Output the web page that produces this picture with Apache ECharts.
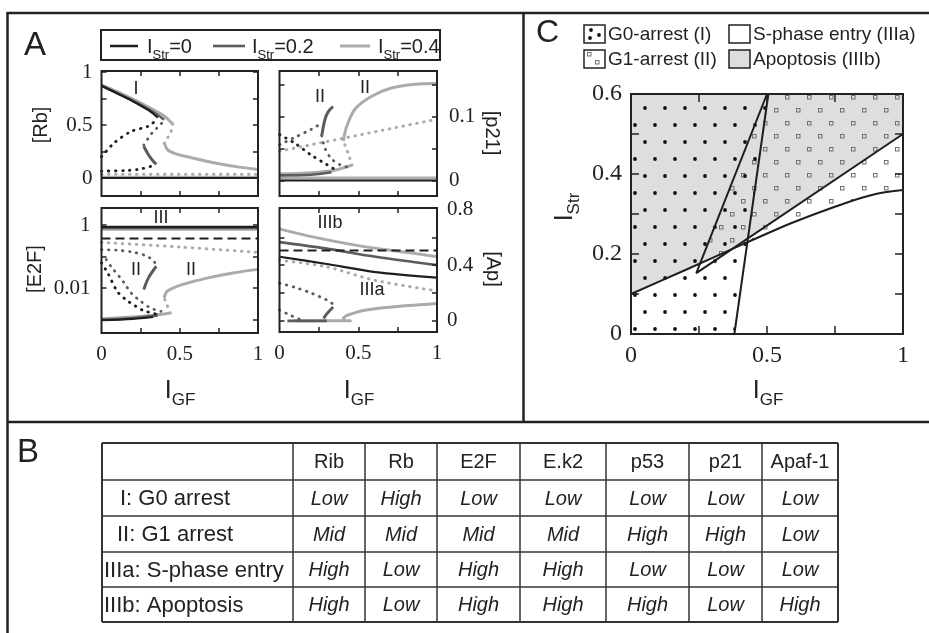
<!DOCTYPE html>
<html><head><meta charset="utf-8">
<script src="https://cdn.jsdelivr.net/npm/echarts@6/dist/echarts.min.js"></script>
<style>html,body{margin:0;padding:0;background:#fff}#c{width:929px;height:633px}</style>
</head><body><div id="c"></div>
<script>
// ================= DATA =================
// Panel A, [Rb] vs I_GF
const rbUpperBlack = [[0,0.87],[0.1,0.80],[0.2,0.725],[0.3,0.64],[0.36,0.57]];
const rbUpperDark = [[0,0.87],[0.1,0.80],[0.2,0.73],[0.3,0.65],[0.36,0.595],[0.40,0.55]];
const rbUpperLight = [[0,0.88],[0.1,0.815],[0.2,0.745],[0.3,0.67],[0.4,0.585],[0.455,0.51]];
const rbLowerLight = [[0.40,0.34],[0.42,0.27],[0.47,0.23],[0.55,0.2],[0.65,0.165],[0.75,0.135],[0.87,0.105],[1,0.08]];
const rbMidDark = [[0.27,0.30],[0.30,0.22],[0.33,0.16],[0.35,0.13]];
const rbUnstBlackRise = [[0,0.2],[0.08,0.33],[0.19,0.44],[0.30,0.49],[0.36,0.56]];
const rbUnstDarkRise = [[0.27,0.31],[0.32,0.42],[0.36,0.48],[0.40,0.54]];
const rbUnstBlackLow = [[0,0.065],[0.15,0.07],[0.25,0.085],[0.35,0.125]];
const rbUnstLightFold = [[0.455,0.51],[0.44,0.42],[0.40,0.34]];
const rbUnstLightFlat = [[0,0.035],[1,0.035]];
const rbZeroBlack = [[0,0],[1,0]];
const rbZeroLight = [[0,0.006],[1,0.006]];
// Panel A, [p21]
const p21HighLight = [[0.405,0.062],[0.427,0.085],[0.48,0.112],[0.585,0.132],[0.71,0.145],[0.86,0.151],[1,0.152]];
const p21LowLight = [[0,0.01],[0.2,0.012],[0.35,0.016],[0.46,0.024]];
const p21FoldLight = [[0.46,0.024],[0.44,0.04],[0.405,0.062]];
const p21UnstLight = [[0,0.046],[1,0.096]];
const p21MidDark = [[0.268,0.07],[0.289,0.096],[0.31,0.108],[0.34,0.116]];
const p21LowDark = [[0,0.008],[0.2,0.009],[0.33,0.013]];
const p21UnstDarkRise = [[0,0.056],[0.1,0.068],[0.2,0.08],[0.27,0.09]];
const p21UnstBlack = [[0,0.072],[0.1,0.058],[0.2,0.04],[0.3,0.025],[0.36,0.016]];
const p21UnstDarkFall = [[0.268,0.07],[0.29,0.05],[0.33,0.034],[0.39,0.024],[0.45,0.02]];
const p21ZeroBlack = [[0,0],[1,0]];
const p21ZeroLight = [[0,0.004],[1,0.004]];
// Panel A, [E2F] (log scale)
const e2fHighBlack = [[0,0.87],[1,0.87]];
const e2fHighDark = [[0,0.8],[1,0.8]];
const e2fHighLight = [[0,0.74],[1,0.74]];
const e2fThreshold = [[0,0.37],[1,0.37]];
const e2fUnstLight = [[0,0.28],[0.5,0.2],[1,0.135]];
const e2fUnstDarkUpper = [[0,0.166],[0.1,0.158],[0.2,0.138],[0.28,0.107],[0.33,0.076],[0.35,0.052]];
const e2fMidDark = [[0.27,0.0089],[0.3,0.021],[0.35,0.049]];
const e2fUnstBlack = [[0,0.063],[0.04,0.030],[0.10,0.0079],[0.155,0.0043],[0.22,0.0026],[0.27,0.0019],[0.37,0.0014]];
const e2fUnstDark = [[0.03,0.08],[0.06,0.049],[0.145,0.0145],[0.19,0.0069],[0.25,0.0038],[0.315,0.0023],[0.38,0.0018]];
const e2fMidLight = [[0.40,0.0048],[0.42,0.0079],[0.51,0.0126],[0.68,0.021],[0.84,0.03],[1,0.039]];
const e2fLowLight = [[0,0.00105],[0.2,0.0012],[0.35,0.0014],[0.44,0.0016]];
const e2fLowDark = [[0,0.00098],[0.2,0.0011],[0.36,0.00135]];
const e2fLowBlack = [[0,0.00095],[0.2,0.00105],[0.33,0.0012]];
const e2fFoldLight = [[0.44,0.0016],[0.42,0.0028],[0.40,0.0048]];
// Panel A, [Ap]
const apHighLight = [[0,0.66],[0.18,0.61],[0.5,0.54],[0.82,0.49],[1,0.46]];
const apThreshold = [[0,0.505],[1,0.505]];
const apHighDark = [[0,0.565],[0.29,0.52],[0.61,0.46],[1,0.40]];
const apHighBlack = [[0,0.46],[0.29,0.41],[0.61,0.35],[1,0.31]];
const apUnstLight = [[0,0.435],[0.29,0.39],[0.61,0.29],[1,0.215]];
const apMidLight = [[0.405,0.018],[0.43,0.04],[0.56,0.08],[0.82,0.11],[1,0.125]];
const apLowLight = [[0.09,0.0],[0.45,0.0]];
const apLowDark = [[0.05,0.0],[0.3,0.0]];
const apMidDark = [[0.28,0.018],[0.3,0.05],[0.34,0.1]];
const apUnstDark = [[0,0.27],[0.1,0.24],[0.2,0.2],[0.3,0.15],[0.34,0.12]];
const apUnstBlack = [[0,0.077],[0.07,0.04],[0.14,0.005]];
const apFoldLight = [[0.45,0.0],[0.405,0.018]];
// Panel A tick labels
const aXLabels = [0, 0.5, 1];
const rbLabels = [0, 0.5, 1];
const p21Labels = [0, 0.1];
const apLabels = [0, 0.4, 0.8];
const legendA = ['0', '0.2', '0.4'];

// Panel C: phase boundaries in (I_GF, I_Str)
const cLine1 = [[0.38,0],[0.505,0.6]];
const cWedge = [[0.50,0.6],[0.24,0.152],[1.0,0.5]];
const cLine4 = [[0,0.1],[0.2,0.16],[0.42,0.227],[0.6,0.28],[0.8,0.33],[0.9,0.35],[1,0.36]];
const cXLabels = [0, 0.5, 1];
const cYLabels = [0, 0.2, 0.4, 0.6];
const cLegend = ['G0-arrest (I)', 'S-phase entry (IIIa)', 'G1-arrest (II)', 'Apoptosis (IIIb)'];

// Panel B: table
const tableCols = ['Rib','Rb','E2F','E.k2','p53','p21','Apaf-1'];
const tableRows = ['I: G0 arrest','II: G1 arrest','IIIa: S-phase entry','IIIb: Apoptosis'];
const tableLevels = [
  ['Low','High','Low','Low','Low','Low','Low'],
  ['Mid','Mid','Mid','Mid','High','High','Low'],
  ['High','Low','High','High','Low','Low','Low'],
  ['High','Low','High','High','High','Low','High']
];

// ================= STYLE / LAYOUT =================
const BLACK = '#1e1e1e', DARK = '#5c5c5c', LIGHT = '#ababab', INK = '#222';
const SANS = 'Liberation Sans', SERIF = 'Liberation Serif';
const grids = [
  {left:101.5, top:71, width:156.5, height:125},
  {left:279.5, top:71, width:157.5, height:125},
  {left:101.5, top:208, width:156.5, height:125},
  {left:279.5, top:208, width:157.5, height:124},
  {left:631, top:94, width:272, height:240}
];

function axisCfg(g, pos, o) {
  const a = {
    type: o.type || 'value', gridIndex: g, position: pos, min: o.min, max: o.max, z: 5,
    axisLine: {show: false, onZero: false}, splitLine: {show: false},
    axisTick: {show: true, inside: true, length: o.tickLen || 5, lineStyle: {color: INK, width: 1.5}},
    axisLabel: {show: !!o.labels, margin: o.margin || 10, fontFamily: SERIF, fontSize: o.fs || 21, color: INK}
  };
  if (o.type === 'log') { a.logBase = 10; a.axisLabel.formatter = o.fmt; a.axisLabel.show = !!o.labels; }
  else {
    if (o.ticks) a.axisTick.customValues = o.ticks;
    if (o.labels) a.axisLabel.customValues = o.labels;
  }
  return a;
}
const xTicksA = [0.25, 0.5, 0.75];
const xAxes = [], yAxes = [];
for (let g = 0; g < 4; g++) {
  xAxes.push(axisCfg(g, 'bottom', {min:0, max:1, ticks:xTicksA, labels: g >= 2 ? aXLabels : null, margin: 11}));
  xAxes.push(axisCfg(g, 'top', {min:0, max:1, ticks:xTicksA}));
}
// Rb
yAxes.push(axisCfg(0, 'left', {min:-0.17, max:1.01, ticks:[0,0.25,0.5,0.75,1], labels:rbLabels, margin:9}));
yAxes.push(axisCfg(0, 'right', {min:-0.17, max:1.01, ticks:[0,0.25,0.5,0.75,1]}));
// p21
yAxes.push(axisCfg(1, 'left', {min:-0.0243, max:0.1716, ticks:[0,0.05,0.1,0.15]}));
yAxes.push(axisCfg(1, 'right', {min:-0.0243, max:0.1716, ticks:[0,0.05,0.1,0.15], labels:p21Labels, margin:12}));
// E2F log
const e2fFmt = v => { const e = Math.log10(v); if (Math.abs(e) < 1e-6) return '1'; if (Math.abs(e + 2) < 1e-6) return '0.01'; return ''; };
yAxes.push(axisCfg(2, 'left', {type:'log', min:0.000372, max:3.47, labels:true, fmt:e2fFmt, margin:11}));
yAxes.push(axisCfg(2, 'right', {type:'log', min:0.000372, max:3.47}));
// Ap
yAxes.push(axisCfg(3, 'left', {min:-0.08, max:0.81, ticks:[0,0.2,0.4,0.6]}));
yAxes.push(axisCfg(3, 'right', {min:-0.08, max:0.81, ticks:[0,0.2,0.4,0.6], labels:apLabels, margin:10}));
// Panel C
xAxes.push(axisCfg(4, 'bottom', {min:0, max:1, ticks:[0.25,0.5,0.75], labels:cXLabels, tickLen:8, fs:24, margin:10}));
xAxes.push(axisCfg(4, 'top', {min:0, max:1, ticks:[0.25,0.5,0.75], tickLen:8}));
yAxes.push(axisCfg(4, 'left', {min:0, max:0.6, ticks:[0.1,0.2,0.3,0.4,0.5], labels:cYLabels, tickLen:8, fs:24, margin:9}));
yAxes.push(axisCfg(4, 'right', {min:0, max:0.6, ticks:[0.1,0.2,0.3,0.4,0.5], tickLen:8}));

// ================= SERIES =================
const series = [];
function addLine(data, g, color, kind, width) {
  const dash = kind === 'dot' ? [0.5, 6.5] : kind === 'dash' ? [9, 5] : 'solid';
  series.push({
    type: 'line', xAxisIndex: 2 * g, yAxisIndex: 2 * g, data: data, symbol: 'none',
    smooth: data.length > 2 ? 0.3 : false, silent: true, animation: false,
    z: color === BLACK ? 4 : color === DARK ? 3 : 2,
    lineStyle: {color: color, width: width || (color === LIGHT ? 3 : color === DARK ? 2.6 : 2.2), type: dash, cap: kind === 'dot' ? 'round' : 'butt'}
  });
}
// Rb
addLine(rbZeroBlack, 0, BLACK); addLine(rbZeroLight, 0, LIGHT);
addLine(rbUnstLightFlat, 0, LIGHT, 'dot');
addLine(rbUpperLight, 0, LIGHT); addLine(rbUpperDark, 0, DARK); addLine(rbUpperBlack, 0, BLACK);
addLine(rbLowerLight, 0, LIGHT); addLine(rbUnstLightFold, 0, LIGHT, 'dot');
addLine(rbMidDark, 0, DARK, 'solid', 3);
addLine(rbUnstBlackRise, 0, BLACK, 'dot', 2.8); addLine(rbUnstDarkRise, 0, DARK, 'dot', 2.8);
addLine(rbUnstBlackLow, 0, BLACK, 'dot', 2.8);
// p21
addLine(p21ZeroLight, 1, LIGHT); addLine(p21ZeroBlack, 1, BLACK);
addLine(p21UnstLight, 1, LIGHT, 'dot');
addLine(p21HighLight, 1, LIGHT); addLine(p21LowLight, 1, LIGHT); addLine(p21FoldLight, 1, LIGHT, 'dot');
addLine(p21MidDark, 1, DARK, 'solid', 3); addLine(p21LowDark, 1, DARK);
addLine(p21UnstDarkRise, 1, DARK, 'dot', 2.8); addLine(p21UnstBlack, 1, BLACK, 'dot', 2.8);
addLine(p21UnstDarkFall, 1, DARK, 'dot', 2.8);
// E2F
addLine(e2fHighLight, 2, LIGHT); addLine(e2fHighDark, 2, DARK); addLine(e2fHighBlack, 2, BLACK);
addLine(e2fThreshold, 2, BLACK, 'dash', 2);
addLine(e2fUnstLight, 2, LIGHT, 'dot');
addLine(e2fUnstDarkUpper, 2, DARK, 'dot', 2.8);
addLine(e2fMidDark, 2, DARK, 'solid', 3);
addLine(e2fUnstBlack, 2, BLACK, 'dot', 2.8); addLine(e2fUnstDark, 2, DARK, 'dot', 2.8);
addLine(e2fMidLight, 2, LIGHT);
addLine(e2fLowLight, 2, LIGHT); addLine(e2fLowDark, 2, DARK); addLine(e2fLowBlack, 2, BLACK);
addLine(e2fFoldLight, 2, LIGHT, 'dot');
// Ap
addLine(apHighLight, 3, LIGHT); addLine(apThreshold, 3, BLACK, 'dash', 2);
addLine(apHighDark, 3, DARK); addLine(apHighBlack, 3, BLACK);
addLine(apUnstLight, 3, LIGHT, 'dot');
addLine(apMidLight, 3, LIGHT); addLine(apLowLight, 3, LIGHT); addLine(apLowDark, 3, DARK);
addLine(apMidDark, 3, DARK, 'solid', 3);
addLine(apUnstDark, 3, DARK, 'dot', 2.8); addLine(apUnstBlack, 3, DARK, 'dot', 2.8);
addLine(apFoldLight, 3, LIGHT, 'dot');

// ---- Panel C regions ----
function interp(line, x) {
  for (let i = 0; i < line.length - 1; i++) {
    const [x0, y0] = line[i], [x1, y1] = line[i + 1];
    if (x >= Math.min(x0, x1) - 1e-9 && x <= Math.max(x0, x1) + 1e-9) return y0 + (y1 - y0) * (x - x0) / (x1 - x0);
  }
  return null;
}
const cLine3 = cWedge.slice(1);
const lowerY = x => { const a = interp(cLine4, x), b = interp(cLine3, x); return b == null ? a : Math.max(a, b); };
let xs = Array.from(new Set(cLine4.map(p => p[0]).concat(cLine3.map(p => p[0])))).sort((a, b) => a - b);
const extra = [];
for (let i = 0; i < xs.length - 1; i++) {
  const a = xs[i], b = xs[i + 1];
  const da = interp(cLine3, a) == null ? null : interp(cLine4, a) - interp(cLine3, a);
  const db = interp(cLine3, b) == null ? null : interp(cLine4, b) - interp(cLine3, b);
  if (da != null && db != null && da * db < 0) extra.push(a + (b - a) * da / (da - db));
}
xs = xs.concat(extra).sort((a, b) => a - b);
const grayPoly = [[0, 0.6]].concat(xs.map(x => [x, lowerY(x)])).concat([[1, 0.6]]);
const dotPoly = [[0, 0], cLine1[0], cLine1[1], [0, 0.6]];
const sqPoly = [cWedge[0], cWedge[1]].concat(cLine4.filter(p => p[0] > cWedge[1][0])).concat([[1, 0.6]]);

function makeDots(w, h, pts) {
  const c = document.createElement('canvas'); c.width = w; c.height = h;
  const x = c.getContext('2d'); x.fillStyle = '#111';
  pts.forEach(([a, b]) => { x.beginPath(); x.arc(a, b, 1.9, 0, Math.PI * 2); x.fill(); });
  return c;
}
function makeSquares(w, h, pts, bg) {
  const c = document.createElement('canvas'); c.width = w; c.height = h;
  const x = c.getContext('2d');
  if (bg) { x.fillStyle = bg; x.fillRect(0, 0, w, h); }
  x.strokeStyle = '#6f6f6f'; x.lineWidth = 1;
  pts.forEach(([a, b]) => x.strokeRect(a + 0.5, b + 0.5, 3.5, 3.5));
  return c;
}
const dotTile = makeDots(20, 34, [[5, 6], [15, 23]]);
const sqTile = makeSquares(22, 26, [[4, 4], [15, 17]]);
function region(poly, fill, z) {
  series.push({
    type: 'custom', xAxisIndex: 8, yAxisIndex: 8, data: [0], silent: true, animation: false, z: z,
    renderItem: (p, api) => ({type: 'polygon', shape: {points: poly.map(pt => api.coord(pt))}, style: {fill: fill}})
  });
}
region(grayPoly, '#dedede', 0);
region(sqPoly, {image: sqTile, repeat: 'repeat'}, 1);
region(dotPoly, {image: dotTile, repeat: 'repeat'}, 1);
function cLineSeries(data, smooth) {
  series.push({type: 'line', xAxisIndex: 8, yAxisIndex: 8, data: data, symbol: 'none', smooth: smooth, silent: true, animation: false, z: 4,
    lineStyle: {color: BLACK, width: 2}});
}
cLineSeries(cLine1, false); cLineSeries(cWedge, false); cLineSeries(cLine4, 0.3);

// ================= GRAPHIC =================
const G = [];
const L = (x1, y1, x2, y2, w, c) => G.push({type: 'line', shape: {x1, y1, x2, y2}, style: {stroke: c || INK, lineWidth: w || 2}, z: 100, silent: true});
const T = (text, x, y, o) => G.push(Object.assign({type: 'text', x, y, z: 100, silent: true,
  style: Object.assign({text, fontFamily: SANS, fontSize: 18, fill: INK, align: 'center', verticalAlign: 'middle'}, o || {})}, o && o.rot != null ? {rotation: o.rot} : {}));
// frame
L(7, 13, 929, 13, 2.5); L(7.5, 12, 7.5, 633, 2.5); L(523.5, 13, 523.5, 422, 2.5); L(7, 422, 929, 422, 2.5);
// grid borders
grids.forEach(g => G.push({type: 'rect', shape: {x: g.left, y: g.top, width: g.width, height: g.height}, style: {fill: 'none', stroke: INK, lineWidth: 2}, z: 100, silent: true}));
// panel letters
T('A', 24, 46, {fontSize: 33, align: 'left'});
T('B', 17, 453, {fontSize: 33, align: 'left'});
T('C', 536, 33, {fontSize: 32, align: 'left'});
// legend A
G.push({type: 'rect', shape: {x: 101, y: 30, width: 339, height: 30}, style: {fill: 'none', stroke: INK, lineWidth: 2}, z: 100});
const subRich = (big, small) => ({i: {fontFamily: SANS, fontSize: big, lineHeight: big + 10, fill: INK}, s: {fontFamily: SANS, fontSize: small, lineHeight: small, verticalAlign: 'bottom', fill: INK}});
[[110, 138, BLACK, 2.5, 147], [213, 245, DARK, 2.6, 252], [340, 370, LIGHT, 3, 378]].forEach((d, i) => {
  L(d[0], 46, d[1], 46, d[3], d[2]);
  G.push({type: 'text', x: d[4], y: 47, z: 100, style: {text: '{i|I}{s|Str}{i|=' + legendA[i] + '}', rich: subRich(20, 13), align: 'left', verticalAlign: 'middle'}});
});
// roman labels panel A
T('I', 136, 89); T('II', 320, 97); T('II', 365, 88);
T('III', 161, 218); T('II', 136, 270); T('II', 191, 270);
T('IIIb', 330, 223); T('IIIa', 372, 290);
// y titles panel A
T('[Rb]', 41, 125, {fontSize: 20, rot: Math.PI / 2});
T('[E2F]', 35, 269, {fontSize: 20, rot: Math.PI / 2});
T('[p21]', 492, 133, {fontSize: 20, rot: -Math.PI / 2});
T('[Ap]', 493, 269, {fontSize: 20, rot: -Math.PI / 2});
// x titles
[180, 359, 768].forEach(x => G.push({type: 'text', x: x, y: 391, z: 100, style: {text: '{i|I}{s|GF}', rich: subRich(25, 17), align: 'center', verticalAlign: 'middle'}}));
G.push({type: 'text', x: 565, y: 207, rotation: Math.PI / 2, z: 100, style: {text: '{i|I}{s|Str}', rich: subRich(25, 17), align: 'center', verticalAlign: 'middle'}});
// legend C
const boxDots = makeDots(21, 18, [[7, 5], [15, 10], [6, 13]]);
const boxSq = makeSquares(21, 18, [[3, 2], [11, 10]], '#fff');
const boxes = [[584, 25, boxDots, null], [729, 25, null, '#fff'], [584, 50, boxSq, null], [729, 50, null, '#dedede']];
boxes.forEach((b, i) => {
  if (b[2]) G.push({type: 'image', x: b[0], y: b[1], z: 100, style: {image: b[2], width: 21, height: 18}});
  G.push({type: 'rect', shape: {x: b[0], y: b[1], width: 21, height: 18}, style: {fill: b[3] || 'none', stroke: INK, lineWidth: 1.5}, z: 101});
  T(cLegend[i], b[0] + 24, b[1] + 9.5, {fontSize: 19, align: 'left'});
});
// table
const colEdges = [102, 293, 365, 437, 520, 606, 689, 762, 838];
const rowEdges = [443, 480, 516, 552, 587, 622];
colEdges.forEach((x, i) => L(x, rowEdges[0], x, rowEdges[rowEdges.length - 1], i === 0 || i === colEdges.length - 1 ? 2 : 1.5, '#333'));
rowEdges.forEach((y, i) => L(colEdges[0], y, colEdges[colEdges.length - 1], y, i === 0 || i === rowEdges.length - 1 ? 2 : 1.5, '#333'));
const rowIndent = [18, 15, 2, 2];
tableCols.forEach((c, j) => T(c, (colEdges[j + 1] + colEdges[j + 2]) / 2, (rowEdges[0] + rowEdges[1]) / 2 + 1, {fontSize: 20}));
tableRows.forEach((r, i) => {
  const yc = (rowEdges[i + 1] + rowEdges[i + 2]) / 2 + 1;
  T(r, colEdges[0] + rowIndent[i], yc, {fontSize: 22, align: 'left'});
  tableLevels[i].forEach((v, j) => T(v, (colEdges[j + 1] + colEdges[j + 2]) / 2, yc, {fontSize: 20, fontStyle: 'italic'}));
});

// ================= CHART =================
const chart = echarts.init(document.getElementById('c'), null, {renderer: 'canvas', width: 929, height: 633});
chart.setOption({
  animation: false,
  backgroundColor: '#fff',
  grid: grids.map(g => Object.assign({show: false, containLabel: false}, g)),
  xAxis: xAxes, yAxis: yAxes,
  series: series,
  graphic: G
});
</script></body></html>
